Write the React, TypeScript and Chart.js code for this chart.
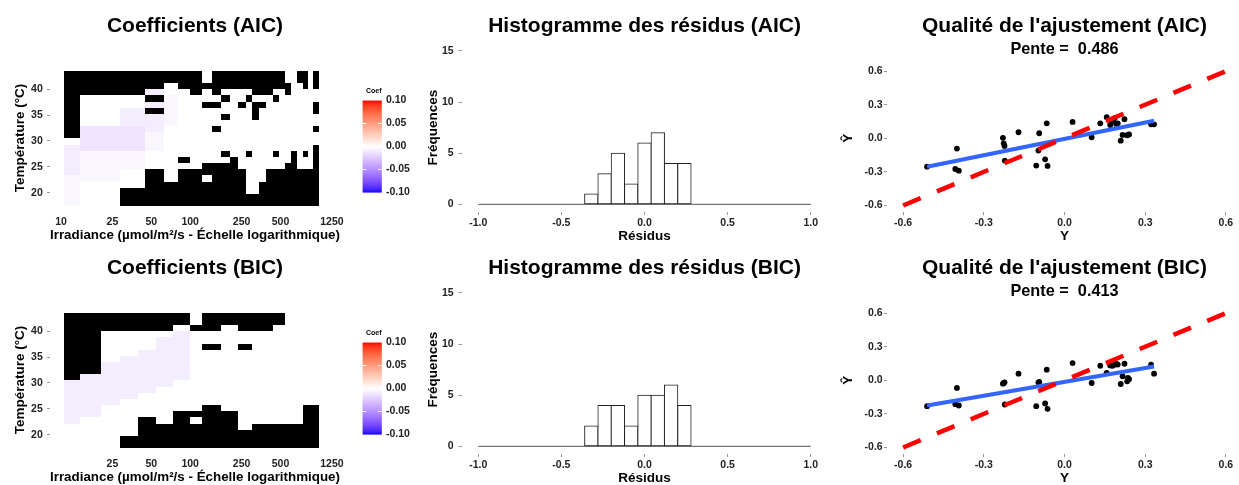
import React, { useEffect, useRef } from "react";
import { Chart, registerables } from "chart.js";

Chart.register(...registerables);

const FONT = "'Liberation Sans', Arial, Helvetica, sans-serif";
Chart.defaults.font.family = FONT;

const CANVAS_W = 1250;
const CANVAS_H = 485;
const ROW_SHIFT = 242;

// ---------------- Data ----------------
// Heatmap grid: irradiance cell edges (µmol/m²/s) and temperature row centres (°C)
const IRRADIANCE_EDGES = [10.5, 14, 20.4, 28.6, 39.5, 44.7, 54.4, 62.7, 73.6, 80.5, 99.6, 122.7, 147.5, 173, 203, 234, 270, 303.5, 341, 386, 437.5, 487, 542, 603, 671, 747, 816, 892, 998];
const TEMPERATURE_CENTERS = [18.0, 19.19, 20.38, 21.57, 22.76, 23.95, 25.14, 26.33, 27.52, 28.71, 29.9, 31.09, 32.28, 33.47, 34.66, 35.85, 37.04, 38.23, 39.42, 40.61, 41.8, 42.99];
const TEMPERATURE_HALF_STEP = 0.595;
// K = non significatif (noir), others = coefficient level
const COEF_LEVELS: Record<string, number> = { ".": 0, a: -0.004, b: -0.008, c: -0.012 };

// rows listed from the highest temperature (top) to the lowest (bottom)
const AIC_GRID = [
  "KKKKKKKKKKK.KKKKKKKKKK..KK.K",
  "KKKKKKKKKKK.KKKKKKKKKK..KK.K",
  "KKKKKKK..KKKKKKKKKKKKKK..K.K",
  "KKKKKbb...K.K....KKK..K.....",
  "K....KKaa....K..K...K.......",
  "K....bbaa..KK..K.KK........K",
  "K..bbKKaa........K.........K",
  "K..bbbbaa....K...K..........",
  "K..bbbbaa...................",
  "Kccccbb.....K..............K",
  "Kccccaa.....................",
  ".ccccaa.....................",
  "bccccaa....................K",
  "baaaa........K..K...K..K.K.K",
  "baaaa....K....K........K...K",
  "baaaa......KKKK.......KK...K",
  "baa..KK..KKKKKKK...KKKKKKKKK",
  "aaa..KK..KK.KKKK...KKKKKKKKK",
  "a....KKKKKKKKKKK..KKKKKKKKKK",
  "a..KKKKKKKKKKKKK..KKKKKKKKKK",
  "a..KKKKKKKKKKKKKKKKKKKKKKKKK",
  "a..KKKKKKKKKKKKKKKKKKKKKKKKK",
];

const BIC_GRID = [
  "KKKKKKKKKK.KKKKKKKKKKK......",
  "KKKKKKKKKK.KKKKKKKKKKK......",
  "KKKKKKKK..KKK..KKKKK........",
  "KK......bb..................",
  "KK....bbbb..................",
  "KK....bbbb.KK..KK...........",
  "KK..bbbbbb..................",
  "KK.bbbbbbb..................",
  "KKbbbbbbbb..................",
  "KKbbbbbbbb..................",
  "Kbbbbbbbbb..................",
  "bbbbbbbb....................",
  "bbbbbb......................",
  "bbbb........................",
  "bbb.........................",
  "bb.........KK............KKK",
  "bb......KKKKKKK..........KKK",
  "b...KK..KK.KKKK..........KKK",
  "....KKKKKKKKKKK..KKKKKKKKKKK",
  "....KKKKKKKKKKKKKKKKKKKKKKKK",
  "...KKKKKKKKKKKKKKKKKKKKKKKKK",
  "...KKKKKKKKKKKKKKKKKKKKKKKKK",
];

const AIC_IRR_TICKS = [10, 25, 50, 100, 250, 500, 1250];
const BIC_IRR_TICKS = [25, 50, 100, 250, 500, 1250];
const TEMP_TICKS = [20, 25, 30, 35, 40];
const COEF_LIMITS = [-0.1, 0.1];
const COEF_BREAKS = [0.1, 0.05, 0, -0.05, -0.1];

// Histogram of residuals
const HIST_BIN_CENTERS = [-0.32, -0.24, -0.16, -0.08, 0, 0.08, 0.16, 0.24];
const HIST_AIC_COUNTS = [1, 3, 5, 2, 6, 7, 4, 4];
const HIST_BIC_COUNTS = [2, 4, 4, 2, 5, 5, 6, 4];
const HIST_RANGE = [-1, 1];
const HIST_X_TICKS = [-1, -0.5, 0, 0.5, 1];
const HIST_Y_TICKS = [0, 5, 10, 15];

// Goodness of fit
const Y_OBSERVED = [-0.511, -0.406, -0.4, -0.393, -0.229, -0.226, -0.223, -0.222, -0.171, -0.105, -0.097, -0.094, -0.072, -0.066, -0.063, 0.03, 0.101, 0.133, 0.157, 0.17, 0.178, 0.186, 0.192, 0.198, 0.209, 0.216, 0.223, 0.233, 0.236, 0.24, 0.322, 0.333];
const Y_HAT_AIC = [-0.253, -0.274, -0.092, -0.289, 0.004, -0.045, -0.068, -0.199, 0.054, -0.244, -0.11, 0.045, -0.188, 0.134, -0.247, 0.146, 0.009, 0.134, 0.188, 0.119, 0.155, 0.18, 0.128, 0.134, -0.021, 0.03, 0.17, 0.027, 0.033, 0.035, 0.125, 0.125];
const Y_HAT_BIC = [-0.231, -0.213, -0.068, -0.225, -0.03, -0.024, -0.018, -0.216, 0.059, -0.231, -0.02, -0.015, -0.207, 0.095, -0.255, 0.154, -0.024, 0.13, 0.065, 0.133, 0.13, 0.139, 0.148, 0.14, -0.033, 0.036, 0.148, -0.009, 0.021, 0.01, 0.139, 0.059];
const FIT_AIC = [-0.005, 0.486]; // intercept, pente
const FIT_BIC = [-0.014, 0.413];
const IDENTITY_RANGE = [-0.6, 0.6];
const FIT_TICKS = [-0.6, -0.3, 0, 0.3, 0.6];

// ---------------- Colour helpers (Lab interpolation like ggplot) ----------------
function rgbToLab(r: number, g: number, b: number) {
  const lin = (c: number) => {
    c /= 255;
    return c <= 0.04045 ? c / 12.92 : Math.pow((c + 0.055) / 1.055, 2.4);
  };
  const R = lin(r), G = lin(g), B = lin(b);
  const X = (0.4124564 * R + 0.3575761 * G + 0.1804375 * B) / 0.95047;
  const Y = 0.2126729 * R + 0.7151522 * G + 0.072175 * B;
  const Z = (0.0193339 * R + 0.119192 * G + 0.9503041 * B) / 1.08883;
  const f = (t: number) => (t > 216 / 24389 ? Math.cbrt(t) : ((24389 / 27) * t + 16) / 116);
  const fx = f(X), fy = f(Y), fz = f(Z);
  return [116 * fy - 16, 500 * (fx - fy), 200 * (fy - fz)];
}
function labToCss(L: number, a: number, b: number) {
  const fy = (L + 16) / 116, fx = fy + a / 500, fz = fy - b / 200;
  const finv = (t: number) => {
    const t3 = t * t * t;
    return t3 > 216 / 24389 ? t3 : (116 * t - 16) / (24389 / 27);
  };
  const X = finv(fx) * 0.95047, Y = finv(fy), Z = finv(fz) * 1.08883;
  const R = 3.2404542 * X - 1.5371385 * Y - 0.4985314 * Z;
  const G = -0.969266 * X + 1.8760108 * Y + 0.041556 * Z;
  const B = 0.0556434 * X - 0.2040259 * Y + 1.0572252 * Z;
  const gam = (c: number) => {
    c = c <= 0.0031308 ? 12.92 * c : 1.055 * Math.pow(Math.max(c, 0), 1 / 2.4) - 0.055;
    return Math.round(Math.min(1, Math.max(0, c)) * 255);
  };
  return `rgb(${gam(R)},${gam(G)},${gam(B)})`;
}
const LAB_WHITE = rgbToLab(255, 255, 255);
const LAB_BLUE = rgbToLab(0, 0, 255);
const LAB_RED = rgbToLab(255, 0, 0);
function coefColor(v: number) {
  const t = Math.max(-1, Math.min(1, v / COEF_LIMITS[1]));
  const end = t < 0 ? LAB_BLUE : LAB_RED;
  const k = Math.abs(t);
  return labToCss(
    LAB_WHITE[0] + (end[0] - LAB_WHITE[0]) * k,
    LAB_WHITE[1] + (end[1] - LAB_WHITE[1]) * k,
    LAB_WHITE[2] + (end[2] - LAB_WHITE[2]) * k
  );
}

// ---------------- Layout helpers ----------------
type Area = { l: number; t: number; r: number; b: number };
const padFor = (a: Area, yW: number, xH: number) => ({
  left: a.l - yW,
  top: a.t,
  right: CANVAS_W - a.r,
  bottom: CANVAS_H - a.b - xH,
});

const tickFont = { family: FONT, size: 10.5, weight: "bold" as const };
const axisTitleFont = { family: FONT, size: 13.5, weight: "bold" as const };

function axis(o: {
  type: string;
  position: string;
  min: number;
  max: number;
  ticks: number[];
  fmt: (v: number) => string;
  title: string;
  size: number;
  pad: number;
  tickColor?: string;
}) {
  const horizontal = o.position === "bottom";
  return {
    type: o.type,
    position: o.position,
    min: o.min,
    max: o.max,
    offset: false,
    afterFit: (s: any) => {
      if (horizontal) s.height = o.size;
      else s.width = o.size;
    },
    afterBuildTicks: (s: any) => {
      s.ticks = o.ticks.map((v) => ({ value: v }));
    },
    ticks: {
      callback: (v: any) => o.fmt(Number(v)),
      font: tickFont,
      color: "#222",
      padding: o.pad,
      autoSkip: false,
      maxRotation: 0,
      minRotation: 0,
    },
    grid: {
      display: true,
      drawOnChartArea: false,
      drawTicks: true,
      offset: false,
      tickLength: 3,
      tickColor: o.tickColor ?? "#9a9a9a",
      tickWidth: 1,
    },
    border: { display: false },
    title: { display: true, text: o.title, font: axisTitleFont, color: "#000", padding: 0 },
  };
}

function textPlugin(lines: { text: string; size: number; baseline: number }[]) {
  return {
    id: "panelText",
    afterDraw(chart: any) {
      const { ctx, chartArea } = chart;
      const cx = (chartArea.left + chartArea.right) / 2;
      ctx.save();
      ctx.fillStyle = "#000";
      ctx.textAlign = "center";
      ctx.textBaseline = "alphabetic";
      for (const ln of lines) {
        ctx.font = `bold ${ln.size}px ${FONT}`;
        ctx.fillText(ln.text, cx, ln.baseline);
      }
      ctx.restore();
    },
  };
}

function heatPlugin(grid: string[]) {
  return {
    id: "heatCells",
    beforeDatasetsDraw(chart: any) {
      const { ctx } = chart;
      const xs = chart.scales.x;
      const ys = chart.scales.y;
      const n = grid.length;
      ctx.save();
      grid.forEach((row, ri) => {
        const tc = TEMPERATURE_CENTERS[n - 1 - ri];
        const yTop = Math.round(ys.getPixelForValue(tc + TEMPERATURE_HALF_STEP));
        const yBot = Math.round(ys.getPixelForValue(tc - TEMPERATURE_HALF_STEP));
        for (let ci = 0; ci < row.length; ci++) {
          const code = row[ci];
          const x0 = Math.round(xs.getPixelForValue(IRRADIANCE_EDGES[ci]));
          const x1 = Math.round(xs.getPixelForValue(IRRADIANCE_EDGES[ci + 1]));
          ctx.fillStyle = code === "K" ? "#000" : coefColor(COEF_LEVELS[code] ?? 0);
          ctx.fillRect(x0, yTop, x1 - x0, yBot - yTop);
        }
      });
      ctx.restore();
    },
  };
}

function legendPlugin(dy: number) {
  return {
    id: "coefLegend",
    afterDraw(chart: any) {
      const ctx = chart.ctx;
      const x0 = 362.7;
      const w = 19;
      const top = 100.5 + dy;
      const bottom = 192 + dy;
      const [lo, hi] = COEF_LIMITS;
      const yOf = (v: number) => bottom - ((v - lo) / (hi - lo)) * (bottom - top);
      const steps = 92;
      ctx.save();
      for (let i = 0; i < steps; i++) {
        const v0 = lo + ((hi - lo) * i) / steps;
        const v1 = lo + ((hi - lo) * (i + 1)) / steps;
        ctx.fillStyle = coefColor((v0 + v1) / 2);
        const ya = yOf(v1);
        const yb = yOf(v0);
        ctx.fillRect(x0, ya, w, yb - ya + 0.6);
      }
      ctx.strokeStyle = "#fff";
      ctx.lineWidth = 1;
      for (const v of COEF_BREAKS) {
        if (v <= lo || v >= hi) continue;
        const y = Math.round(yOf(v)) + 0.5;
        ctx.beginPath();
        ctx.moveTo(x0, y);
        ctx.lineTo(x0 + 3.8, y);
        ctx.moveTo(x0 + w - 3.8, y);
        ctx.lineTo(x0 + w, y);
        ctx.stroke();
      }
      ctx.fillStyle = "#222";
      ctx.font = `bold 10.5px ${FONT}`;
      ctx.textAlign = "left";
      ctx.textBaseline = "middle";
      for (const v of COEF_BREAKS) ctx.fillText(v.toFixed(2), 386, yOf(v));
      ctx.fillStyle = "#000";
      ctx.font = `bold 7px ${FONT}`;
      ctx.textBaseline = "alphabetic";
      ctx.fillText("Coef", 366, 93.3 + dy);
      ctx.restore();
    },
  };
}

const baseOptions = {
  animation: false,
  responsive: false,
  devicePixelRatio: 1,
  events: [],
};

function heatConfig(grid: string[], xTicks: number[], dy: number, title: string) {
  const area = { l: 50, t: 65 + dy, r: 340, b: 211 + dy };
  return {
    type: "scatter",
    data: { datasets: [] },
    options: {
      ...baseOptions,
      layout: { padding: padFor(area, 38.1, 32.8) },
      plugins: { legend: { display: false }, tooltip: { enabled: false } },
      scales: {
        x: axis({
          type: "logarithmic",
          position: "bottom",
          min: 8.22,
          max: 1443.7,
          ticks: xTicks,
          fmt: (v) => String(v),
          title: "Irradiance (µmol/m²/s - Échelle logarithmique)",
          size: 32.8,
          pad: 2,
          tickColor: "rgba(0,0,0,0)",
        }),
        y: axis({
          type: "linear",
          position: "left",
          min: 16.46,
          max: 44.7,
          ticks: TEMP_TICKS,
          fmt: (v) => String(v),
          title: "Température (°C)",
          size: 38.1,
          pad: 4.2,
        }),
      },
    },
    plugins: [heatPlugin(grid), legendPlugin(dy), textPlugin([{ text: title, size: 21, baseline: 31.5 + dy }])],
  };
}

function histConfig(counts: number[], dy: number, title: string) {
  const area = { l: 461.6, t: 43.3 + dy, r: 827.4, b: 212 + dy };
  return {
    type: "bar",
    data: {
      datasets: [
        {
          type: "bar",
          data: HIST_BIN_CENTERS.map((c, i) => ({ x: c, y: counts[i] })),
          backgroundColor: "#ffffff",
          borderColor: "#222",
          borderWidth: 1,
          borderSkipped: false,
          inflateAmount: 0.5,
          barPercentage: 1,
          categoryPercentage: 1,
          order: 1,
        },
        {
          type: "line",
          data: HIST_RANGE.map((v) => ({ x: v, y: 0 })),
          borderColor: "#555",
          borderWidth: 1,
          pointRadius: 0,
          order: 2,
        },
      ],
    },
    options: {
      ...baseOptions,
      layout: { padding: padFor(area, 36.4, 32.8) },
      plugins: { legend: { display: false }, tooltip: { enabled: false } },
      scales: {
        x: axis({
          type: "linear",
          position: "bottom",
          min: -1.1,
          max: 1.1,
          ticks: HIST_X_TICKS,
          fmt: (v) => v.toFixed(1),
          title: "Résidus",
          size: 32.8,
          pad: 2,
        }),
        y: axis({
          type: "linear",
          position: "left",
          min: -0.75,
          max: 15.75,
          ticks: HIST_Y_TICKS,
          fmt: (v) => String(v),
          title: "Fréquences",
          size: 36.4,
          pad: 5,
        }),
      },
    },
    plugins: [textPlugin([{ text: title, size: 21, baseline: 31.5 + dy }])],
  };
}

function fitConfig(yhat: number[], fit: number[], dy: number, title: string) {
  const area = { l: 887, t: 64.4 + dy, r: 1242, b: 212.2 + dy };
  const xr = [Math.min(...Y_OBSERVED), Math.max(...Y_OBSERVED)];
  return {
    type: "scatter",
    data: {
      datasets: [
        {
          type: "line",
          data: IDENTITY_RANGE.map((v) => ({ x: v, y: v })),
          borderColor: "#ff0000",
          borderWidth: 4.5,
          borderDash: [19, 17.6],
          borderCapStyle: "butt",
          pointRadius: 0,
          order: 1,
        },
        {
          type: "line",
          data: xr.map((v) => ({ x: v, y: fit[0] + fit[1] * v })),
          borderColor: "#3366ff",
          borderWidth: 4,
          pointRadius: 0,
          order: 2,
        },
        {
          type: "scatter",
          data: Y_OBSERVED.map((v, i) => ({ x: v, y: yhat[i] })),
          backgroundColor: "#000",
          borderColor: "#000",
          borderWidth: 0,
          pointRadius: 2.9,
          order: 3,
        },
      ],
    },
    options: {
      ...baseOptions,
      layout: { padding: padFor(area, 46.8, 32.6) },
      plugins: { legend: { display: false }, tooltip: { enabled: false } },
      scales: {
        x: axis({
          type: "linear",
          position: "bottom",
          min: -0.66,
          max: 0.66,
          ticks: FIT_TICKS,
          fmt: (v) => v.toFixed(1),
          title: "Y",
          size: 32.6,
          pad: 1.2,
        }),
        y: axis({
          type: "linear",
          position: "left",
          min: -0.66,
          max: 0.66,
          ticks: FIT_TICKS,
          fmt: (v) => v.toFixed(1),
          title: "Ŷ",
          size: 46.8,
          pad: 1.3,
        }),
      },
    },
    plugins: [
      textPlugin([
        { text: title, size: 21, baseline: 31.5 + dy },
        { text: `Pente =  ${fit[1].toFixed(3)}`, size: 16.3, baseline: 54 + dy },
      ]),
    ],
  };
}

export default function App() {
  const refs = useRef<(HTMLCanvasElement | null)[]>([]);

  useEffect(() => {
    const configs = [
      heatConfig(AIC_GRID, AIC_IRR_TICKS, 0, "Coefficients (AIC)"),
      histConfig(HIST_AIC_COUNTS, 0, "Histogramme des résidus (AIC)"),
      fitConfig(Y_HAT_AIC, FIT_AIC, 0, "Qualité de l'ajustement (AIC)"),
      heatConfig(BIC_GRID, BIC_IRR_TICKS, ROW_SHIFT, "Coefficients (BIC)"),
      histConfig(HIST_BIC_COUNTS, ROW_SHIFT, "Histogramme des résidus (BIC)"),
      fitConfig(Y_HAT_BIC, FIT_BIC, ROW_SHIFT, "Qualité de l'ajustement (BIC)"),
    ];
    const charts = configs.map((cfg, i) => new Chart(refs.current[i] as HTMLCanvasElement, cfg as any));
    return () => charts.forEach((c) => c.destroy());
  }, []);

  return (
    <div
      style={{
        position: "absolute",
        left: 0,
        top: 0,
        width: 1239,
        height: 485,
        overflow: "hidden",
        background: "#fff",
      }}
    >
      {[0, 1, 2, 3, 4, 5].map((i) => (
        <canvas
          key={i}
          ref={(el) => {
            refs.current[i] = el;
          }}
          width={CANVAS_W}
          height={CANVAS_H}
          style={{ position: "absolute", left: 0, top: 0, width: CANVAS_W, height: CANVAS_H }}
        />
      ))}
    </div>
  );
}
